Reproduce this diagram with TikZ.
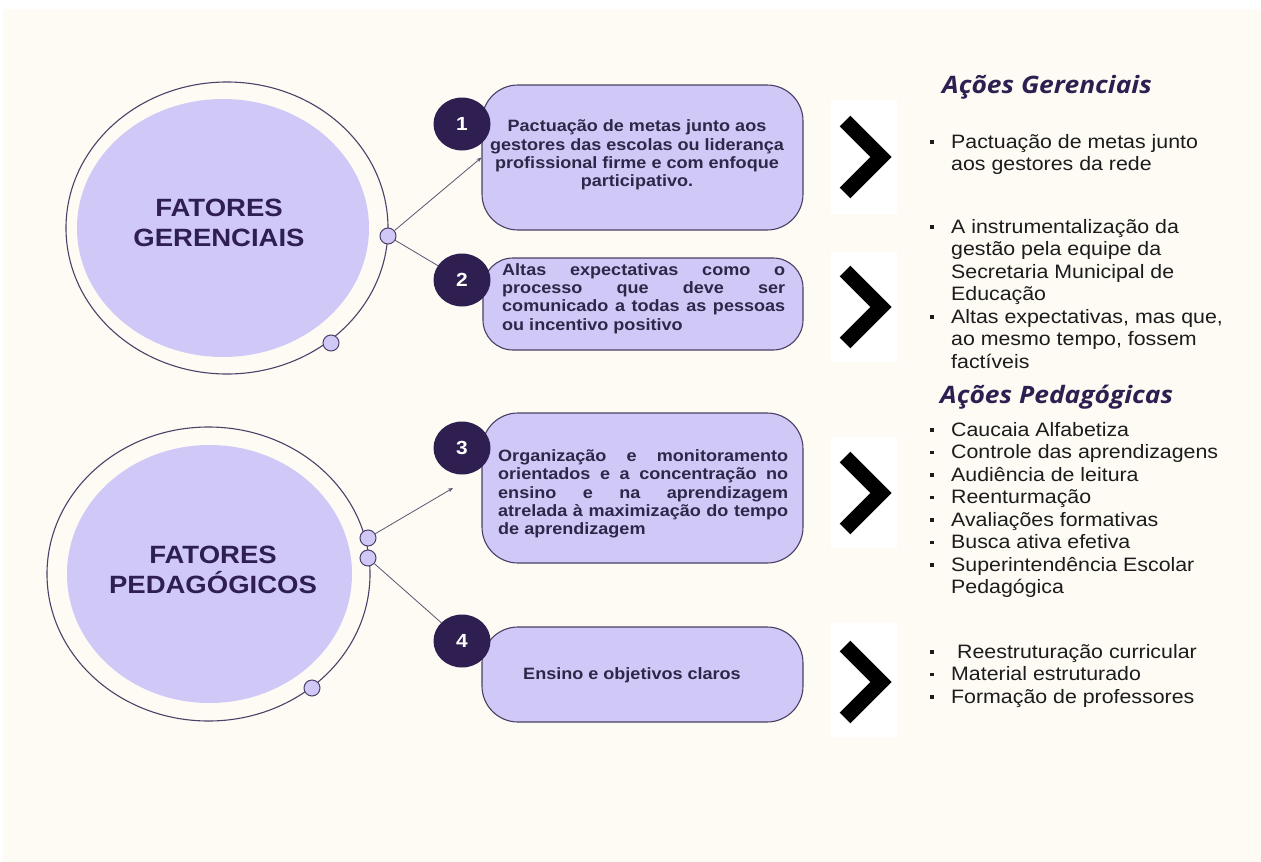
\documentclass[tikz,border=0pt]{standalone}
\usepackage{fontspec}
\setmainfont[FakeStretch=1.1]{Liberation Sans}
\newfontfamily\headfont[FakeStretch=1.1]{Open Sans}
\usetikzlibrary{shapes.geometric,arrows.meta}

\definecolor{cream}{HTML}{FEFAF4}
\definecolor{lav}{HTML}{D0C9F8}
\definecolor{deep}{HTML}{2E1F50}
\definecolor{boxtext}{HTML}{2D2748}
\definecolor{edge}{HTML}{4A4062}
\definecolor{wire}{HTML}{5C5470}
\definecolor{ink}{HTML}{1C1C1C}

% one bulleted line and one continuation line of the action lists
\newcommand{\bul}{\makebox[21pt][l]{\raisebox{4.5pt}{\rule{3.6pt}{3.6pt}}}\strut}
\newcommand{\cont}{\hspace*{21pt}\strut}
% one justified line of a box text
\newcommand{\jl}[2]{\makebox[#1pt][s]{\strut #2}}

\tikzset{
  ring/.style={ellipse, draw=deep!85, line width=1.1pt, inner sep=0pt},
  core/.style={ellipse, fill=lav, inner sep=0pt},
  knob/.style={circle, draw=deep!85, fill=lav, line width=1pt, minimum size=16pt, inner sep=0pt},
  title/.style={text=deep, font=\fontsize{25}{30}\selectfont\bfseries, align=center},
  numdot/.style={ellipse, fill=deep, text=white, minimum width=57pt, minimum height=53pt,
    inner sep=0pt, font=\fontsize{19}{22}\selectfont\bfseries},
  card/.style={draw=edge, line width=1.1pt, fill=lav, rounded corners=36pt, inner sep=0pt},
  cardtext/.style={text=boxtext, font=\fontsize{16.4}{18.3}\selectfont\bfseries, inner sep=0pt},
  link/.style={draw=wire, line width=0.8pt},
  chev/.style={line width=15pt, line join=miter, miter limit=4},
  chevbg/.style={fill=white, draw=none},
  acts/.style={text=ink, font=\fontsize{19.4}{22.5}\selectfont, align=left, inner sep=0pt, anchor=north west},
  heading/.style={text=deep, font=\headfont\fontsize{24}{28}\selectfont\bfseries\itshape, inner sep=0pt, anchor=base west},
}

\begin{document}
\begin{tikzpicture}[x=1pt, y=-1pt]
\useasboundingbox (0,0) rectangle (1261,862);
\fill[white] (0,0) rectangle (1261,862);
\fill[cream] (3,9) rectangle (1261,862);

% ---- the two factor discs ----
\node[core, minimum width=292pt, minimum height=258pt] (g) at (223,228) {};
\node[ring, minimum width=322pt, minimum height=292pt] (gring) at (227,228) {};
\node[title] (gt) at (219,223) {FATORES\\GERENCIAIS};

\node[core, minimum width=285pt, minimum height=258pt] (p) at (209.5,574) {};
\node[ring, minimum width=323pt, minimum height=294pt] (pring) at (208.5,574) {};
\node[title] (pt) at (213,570) {FATORES\\PEDAGÓGICOS};

% ---- knobs on the rings ----
\node[knob] (k1) at (388,236) {};
\node[knob] (k2) at (331,343) {};
\node[knob] (k3) at (368,538) {};
\node[knob] (k4) at (368,558) {};
\node[knob] (k5) at (312,688) {};

% ---- factor cards ----
\node[card, minimum width=321pt, minimum height=145pt] (b1) at (642.5,157.5) {};
\node[card, rounded corners=30pt, minimum width=320pt, minimum height=92pt] (b2) at (643,304) {};
\node[card, minimum width=321pt, minimum height=150pt] (b3) at (642.5,488) {};
\node[card, minimum width=321pt, minimum height=95pt] (b4) at (642.5,674.5) {};

\node[cardtext, align=center, anchor=north] (t1) at (637,118.7)
  {\strut Pactuação de metas junto aos\\\strut gestores das escolas ou liderança\\\strut profissional firme e com enfoque\\\strut participativo.};
\node[cardtext, align=left, anchor=north west] (t2) at (502,262.2)
  {\jl{283}{Altas expectativas como o}\\\jl{283}{processo que deve ser}\\\jl{283}{comunicado a todas as pessoas}\\\strut ou incentivo positivo};
\node[cardtext, align=left, anchor=north west] (t3) at (498,448.4)
  {\jl{290}{Organização e monitoramento}\\\jl{290}{orientados e a concentração no}\\\jl{290}{ensino e na aprendizagem}\\\jl{290}{atrelada à maximização do tempo}\\\strut de aprendizagem};
\node[cardtext, anchor=base] (t4) at (632,679.5) {Ensino e objetivos claros};

% ---- numbered markers ----
\node[numdot] (n1) at (462,124) {1};
\node[numdot] (n2) at (462,280) {2};
\node[numdot] (n3) at (462,448) {3};
\node[numdot] (n4) at (462,641) {4};

% ---- connectors ----
\coordinate (a3) at (453,488);
\draw[link, -{Stealth[length=5pt,width=4pt]}] (k1) -- (b1.west);
\draw[link] (k1) -- (n2);
\draw[link, -{Stealth[length=5pt,width=4pt]}] (k3) -- (a3);
\draw[link] (k4) -- (n4);

% ---- chevrons on white tiles ----
\foreach \cy/\top/\bot in {157/100/214, 307/252/362, 493/437/548, 682/623/737}{
  \fill[chevbg] (831,\top) rectangle (897,\bot);
  \draw[chev] (845,\cy-36) -- (881,\cy) -- (845,\cy+36);
}

% ---- action lists ----
\node[heading] (h1) at (942,93) {Ações Gerenciais};
\node[acts] (l1) at (930,132.3)
  {\bul Pactuação de metas junto\\\cont aos gestores da rede};
\node[acts] (l2) at (930,217.3)
  {\bul A instrumentalização da\\\cont gestão pela equipe da\\\cont Secretaria Municipal de\\\cont Educação\\
   \bul Altas expectativas, mas que,\\\cont ao mesmo tempo, fossem\\\cont factíveis};
\node[heading] (h2) at (940,403) {Ações Pedagógicas};
\node[acts] (l3) at (930,420.3)
  {\bul Caucaia Alfabetiza\\\bul Controle das aprendizagens\\\bul Audiência de leitura\\\bul Reenturmação\\
   \bul Avaliações formativas\\\bul Busca ativa efetiva\\\bul Superintendência Escolar\\\cont Pedagógica};
\node[acts] (l4) at (930,642.3)
  {\bul\hspace{6pt}Reestruturação curricular\\\bul Material estruturado\\\bul Formação de professores};
\end{tikzpicture}
\end{document}
